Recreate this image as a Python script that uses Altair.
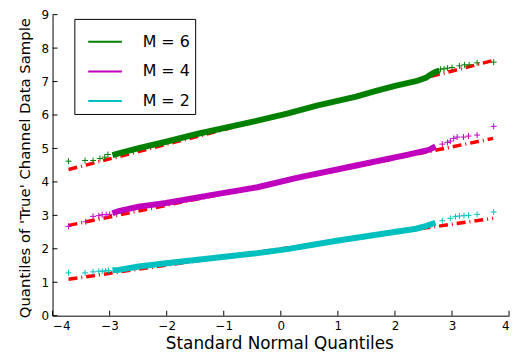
import altair as alt
import pandas as pd

labels = ['M = 6', 'M = 4', 'M = 2']
colors = ['#008000', '#bf00bf', '#00bfbf']

x_ticks = [-4, -3, -2, -1, 0, 1, 2, 3, 4]
y_ticks = [0, 1, 2, 3, 4, 5, 6, 7, 8, 9]

# dense central part of each sample (read along the band centre)
green_band_x = [-2.95, -2.84, -2.49, -2.01, -1.45, -0.41, 0.11, 0.63, 1.32, 1.67, 2.02, 2.37, 2.54, 2.62, 2.70, 2.78]
green_band_y = [4.80, 4.85, 5.01, 5.20, 5.44, 5.83, 6.04, 6.28, 6.55, 6.72, 6.88, 7.01, 7.11, 7.20, 7.28, 7.33]
magenta_band_x = [-2.95, -2.84, -2.49, -2.01, -1.20, -0.41, 0.28, 1.32, 2.19, 2.60, 2.71]
magenta_band_y = [3.06, 3.13, 3.26, 3.37, 3.61, 3.84, 4.12, 4.49, 4.80, 4.96, 5.06]
cyan_band_x = [-2.95, -2.84, -2.49, -2.01, -0.41, 0.11, 0.98, 2.02, 2.37, 2.54, 2.71]
cyan_band_y = [1.36, 1.37, 1.47, 1.57, 1.87, 1.99, 2.24, 2.51, 2.60, 2.68, 2.78]

# sparse tail samples ('+' markers)
green_tail_x = [-3.72, -3.43, -3.29, -3.17, -3.085, -3.03, 2.80, 2.86, 2.92, 3.00, 3.13, 3.22, 3.30, 3.44, 3.73]
green_tail_y = [4.62, 4.64, 4.64, 4.70, 4.74, 4.82, 7.37, 7.38, 7.40, 7.42, 7.47, 7.50, 7.50, 7.56, 7.58]
magenta_tail_x = [-3.72, -3.42, -3.29, -3.19, -3.13, -3.06, -3.00, 2.83, 2.92, 2.97, 3.03, 3.09, 3.20, 3.29, 3.44, 3.73]
magenta_tail_y = [2.67, 2.81, 2.97, 2.99, 3.02, 3.02, 3.03, 5.13, 5.18, 5.22, 5.30, 5.34, 5.34, 5.37, 5.40, 5.66]
cyan_tail_x = [-3.72, -3.43, -3.29, -3.19, -3.13, -3.07, -3.02, 2.83, 2.97, 3.06, 3.13, 3.21, 3.29, 3.44, 3.73]
cyan_tail_y = [1.28, 1.28, 1.31, 1.33, 1.33, 1.34, 1.35, 2.84, 2.91, 2.96, 2.98, 2.99, 3.00, 3.03, 3.10]

# red reference lines (end points)
ref_x = [-3.72, 3.72]
green_ref_y = [4.37, 7.63]
magenta_ref_y = [2.70, 5.30]
cyan_ref_y = [1.09, 2.91]


def frame(series, xs, ys):
    return pd.DataFrame({'series': series, 'x': xs, 'y': ys})


band = pd.concat([frame(labels[0], green_band_x, green_band_y),
                  frame(labels[1], magenta_band_x, magenta_band_y),
                  frame(labels[2], cyan_band_x, cyan_band_y)])
tails = pd.concat([frame(labels[0], green_tail_x, green_tail_y),
                   frame(labels[1], magenta_tail_x, magenta_tail_y),
                   frame(labels[2], cyan_tail_x, cyan_tail_y)])
ref = pd.concat([frame(labels[0], ref_x, green_ref_y),
                 frame(labels[1], ref_x, magenta_ref_y),
                 frame(labels[2], ref_x, cyan_ref_y)])

W, H = 461, 304
FONT = 'DejaVu Sans'
xscale = alt.Scale(domain=[-4, 4], nice=False, zero=False)
yscale = alt.Scale(domain=[0, 9], nice=False, zero=False)

xaxis = alt.Axis(values=x_ticks, tickCount=9, format='d', labelOverlap=False, ticks=False, grid=False,
                 domainColor='black', domainWidth=1,
                 labelFont=FONT, labelFontSize=12, labelColor='black', labelPadding=5,
                 title='Standard Normal Quantiles', titleFont=FONT, titleFontSize=17,
                 titleFontWeight='normal', titleColor='black', titleBaseline='alphabetic',
                 titleY=33.5, titleX=W / 2 - 1.5, titleAlign='center')
yaxis = alt.Axis(values=y_ticks, tickCount=10, format='d', labelOverlap=False, labelFlush=False,
                 ticks=False, grid=False,
                 domainColor='black', domainWidth=1,
                 labelFont=FONT, labelFontSize=12, labelColor='black', labelPadding=4,
                 title="Quantiles of 'True' Channel Data Sample", titleFont=FONT, titleFontSize=15,
                 titleFontWeight='normal', titleColor='black', titleAngle=270,
                 titleBaseline='alphabetic', titleAlign='center', titleX=-23.7, titleY=154.5)

X = alt.X('x:Q', scale=xscale, axis=xaxis)
Y = alt.Y('y:Q', scale=yscale, axis=yaxis)

legend = alt.Legend(orient='none', legendX=22, legendY=4.3, title=None, symbolType='stroke',
                    symbolSize=1156, symbolStrokeWidth=2, labelFont=FONT, labelFontSize=16,
                    labelColor='black', labelOffset=20, padding=5, rowPadding=4,
                    strokeColor='black', fillColor='white', symbolOffset=8,
                    labelExpr="datum.label + '   '")
color = alt.Color('series:N', scale=alt.Scale(domain=labels, range=colors), legend=legend)

ref_layer = alt.Chart(ref).mark_line(color='red', strokeWidth=3.5, strokeDash=[9, 4, 1, 4],
                                     strokeCap='butt').encode(x=X, y=Y, detail='series:N')

band_layer = alt.Chart(band).mark_line(strokeWidth=6, strokeCap='butt').encode(
    x=X, y=Y, color=color)

tail_layer = alt.Chart(tails).mark_point(shape='M-1,0H1M0,-1V1', filled=False, strokeWidth=1,
                                         size=36, opacity=1).encode(
    x=X, y=Y, color=color)

xt = pd.DataFrame({'x': x_ticks})
yt = pd.DataFrame({'y': y_ticks})
xtick_layer = alt.Chart(xt).mark_rule(color='black', strokeWidth=1).encode(
    x=X, y=alt.value(H), y2=alt.value(H - 5))
ytick_layer = alt.Chart(yt).mark_rule(color='black', strokeWidth=1).encode(
    y=Y, x=alt.value(0), x2=alt.value(5))

chart = alt.layer(ref_layer, band_layer, tail_layer, xtick_layer, ytick_layer).properties(
    width=W, height=H,
    autosize=alt.AutoSizeParams(type='none'),
    padding={'left': 45, 'top': 5, 'right': 8, 'bottom': 40},
    background='white',
).configure_view(stroke=None)

chart.save("out.html", embed_options={"renderer": "svg", "actions": False})
